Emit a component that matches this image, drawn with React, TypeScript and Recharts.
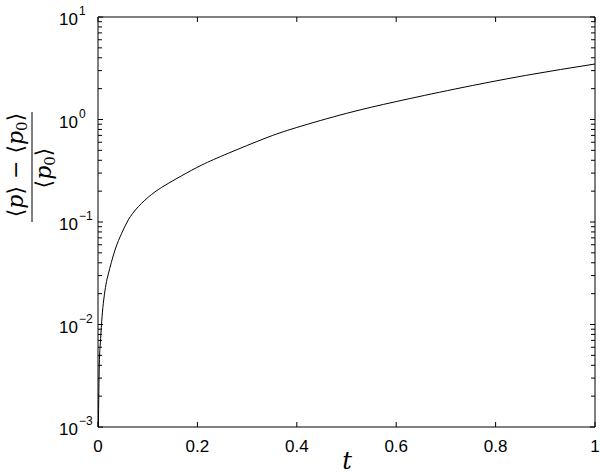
import React from "react";
import { LineChart, Line, XAxis, YAxis } from "recharts";

// time samples and relative momentum change
const tValues = [
  0.0007, 0.0027, 0.0047, 0.0074, 0.0107, 0.015, 0.0207, 0.0342, 0.0477, 0.061,
  0.0811, 0.108, 0.135, 0.168, 0.209, 0.262, 0.336, 0.4, 0.5, 0.6, 0.72, 0.86, 1.0,
];
const relChange = [
  0.001, 0.0041, 0.0066, 0.0106, 0.0161, 0.023, 0.031, 0.0533, 0.0776, 0.105,
  0.141, 0.186, 0.228, 0.282, 0.36, 0.468, 0.655, 0.836, 1.148, 1.496, 1.99, 2.69, 3.48,
];

const xTicks = [0, 0.2, 0.4, 0.6, 0.8, 1];
const decades = [0.001, 0.01, 0.1, 1, 10];
const decadeExp = ["−3", "−2", "−1", "0", "1"];
const yTicks = [
  0.001, 0.002, 0.003, 0.004, 0.005, 0.006, 0.007, 0.008, 0.009,
  0.01, 0.02, 0.03, 0.04, 0.05, 0.06, 0.07, 0.08, 0.09,
  0.1, 0.2, 0.3, 0.4, 0.5, 0.6, 0.7, 0.8, 0.9,
  1, 2, 3, 4, 5, 6, 7, 8, 9, 10,
];

const data = tValues.map((t, i) => ({ t, v: relChange[i] }));

const tickFont = "'Liberation Sans', Arial, sans-serif";
const mathFont = "'DejaVu Serif', 'Liberation Serif', serif";

const decadeIndex = (v: number) => decades.findIndex((d) => Math.abs(d - v) / d < 1e-6);

function LeftTick(props: any) {
  const { x, y, payload } = props;
  const idx = decadeIndex(payload.value);
  const major = idx >= 0;
  return (
    <g>
      <line x1={x} x2={x + (major ? 5 : 4)} y1={y} y2={y} stroke="#000" />
      {major && (
        <>
          <text x={x - 20} y={y + 8} textAnchor="end" fontSize={17} fontFamily={tickFont} fill="#000">
            10
          </text>
          <text x={x - 19} y={y - 2} textAnchor="start" fontSize={12} fontFamily={tickFont} fill="#000">
            {decadeExp[idx]}
          </text>
        </>
      )}
    </g>
  );
}

function RightTick(props: any) {
  const { x, y, payload } = props;
  const major = decadeIndex(payload.value) >= 0;
  return <line x1={x - (major ? 5 : 4)} x2={x} y1={y} y2={y} stroke="#000" />;
}

function BottomTick(props: any) {
  const { x, y, payload } = props;
  return (
    <g>
      <line x1={x} x2={x} y1={y - 5} y2={y} stroke="#000" />
      <text x={x} y={y + 25} textAnchor="middle" fontSize={17} fontFamily={tickFont} fill="#000">
        {String(payload.value)}
      </text>
    </g>
  );
}

function TopTick(props: any) {
  const { x, y } = props;
  return <line x1={x} x2={x} y1={y} y2={y + 5} stroke="#000" />;
}

function YLabel() {
  return (
    <g fontFamily={mathFont} fill="#000">
      <g transform="rotate(-90)">
        <text x={-165} y={23} textAnchor="middle" fontSize={22}>
          <tspan>⟨</tspan>
          <tspan fontStyle="italic">p</tspan>
          <tspan>⟩ − ⟨</tspan>
          <tspan fontStyle="italic">p</tspan>
          <tspan fontSize={15} dy={4}>0</tspan>
          <tspan dy={-4}>⟩</tspan>
        </text>
        <text x={-168} y={51} textAnchor="middle" fontSize={22}>
          <tspan>⟨</tspan>
          <tspan fontStyle="italic">p</tspan>
          <tspan fontSize={15} dy={4}>0</tspan>
          <tspan dy={-4}>⟩</tspan>
        </text>
      </g>
      <line x1={32} x2={32} y1={112} y2={222} stroke="#000" strokeWidth={1} />
    </g>
  );
}

export default function App() {
  return (
    <div style={{ position: "absolute", left: 0, top: 0, background: "#fff" }}>
      <LineChart
        width={600}
        height={475}
        data={data}
        margin={{ top: 0, right: 0, bottom: 0, left: 0 }}
      >
        <XAxis
          xAxisId="b"
          dataKey="t"
          type="number"
          domain={[0, 1]}
          ticks={xTicks}
          orientation="bottom"
          height={48}
          tickSize={0}
          tickMargin={0}
          tickLine={false}
          axisLine={{ stroke: "#000" }}
          tick={<BottomTick />}
          interval={0}
          label={{
            content: () => (
              <text x={347} y={469} textAnchor="middle" fontSize={24} fontStyle="italic" fontFamily={mathFont} fill="#000">
                t
              </text>
            ),
          }}
        />
        <XAxis
          xAxisId="top"
          dataKey="t"
          type="number"
          domain={[0, 1]}
          ticks={xTicks}
          orientation="top"
          height={17}
          tickSize={0}
          tickMargin={0}
          tickLine={false}
          axisLine={{ stroke: "#000" }}
          tick={<TopTick />}
          interval={0}
        />
        <YAxis
          yAxisId="l"
          scale="log"
          type="number"
          domain={[0.001, 10]}
          allowDataOverflow
          ticks={yTicks}
          interval={0}
          width={98}
          tickSize={0}
          tickMargin={0}
          tickLine={false}
          axisLine={{ stroke: "#000" }}
          tick={<LeftTick />}
          label={{ content: () => <YLabel /> }}
        />
        <YAxis
          yAxisId="r"
          orientation="right"
          scale="log"
          type="number"
          domain={[0.001, 10]}
          allowDataOverflow
          ticks={yTicks}
          interval={0}
          width={5}
          tickSize={0}
          tickMargin={0}
          tickLine={false}
          axisLine={{ stroke: "#000" }}
          tick={<RightTick />}
        />
        <Line
          xAxisId="b"
          yAxisId="l"
          dataKey="v"
          type="natural"
          stroke="#000"
          strokeWidth={1}
          dot={false}
          isAnimationActive={false}
        />
      </LineChart>
    </div>
  );
}
